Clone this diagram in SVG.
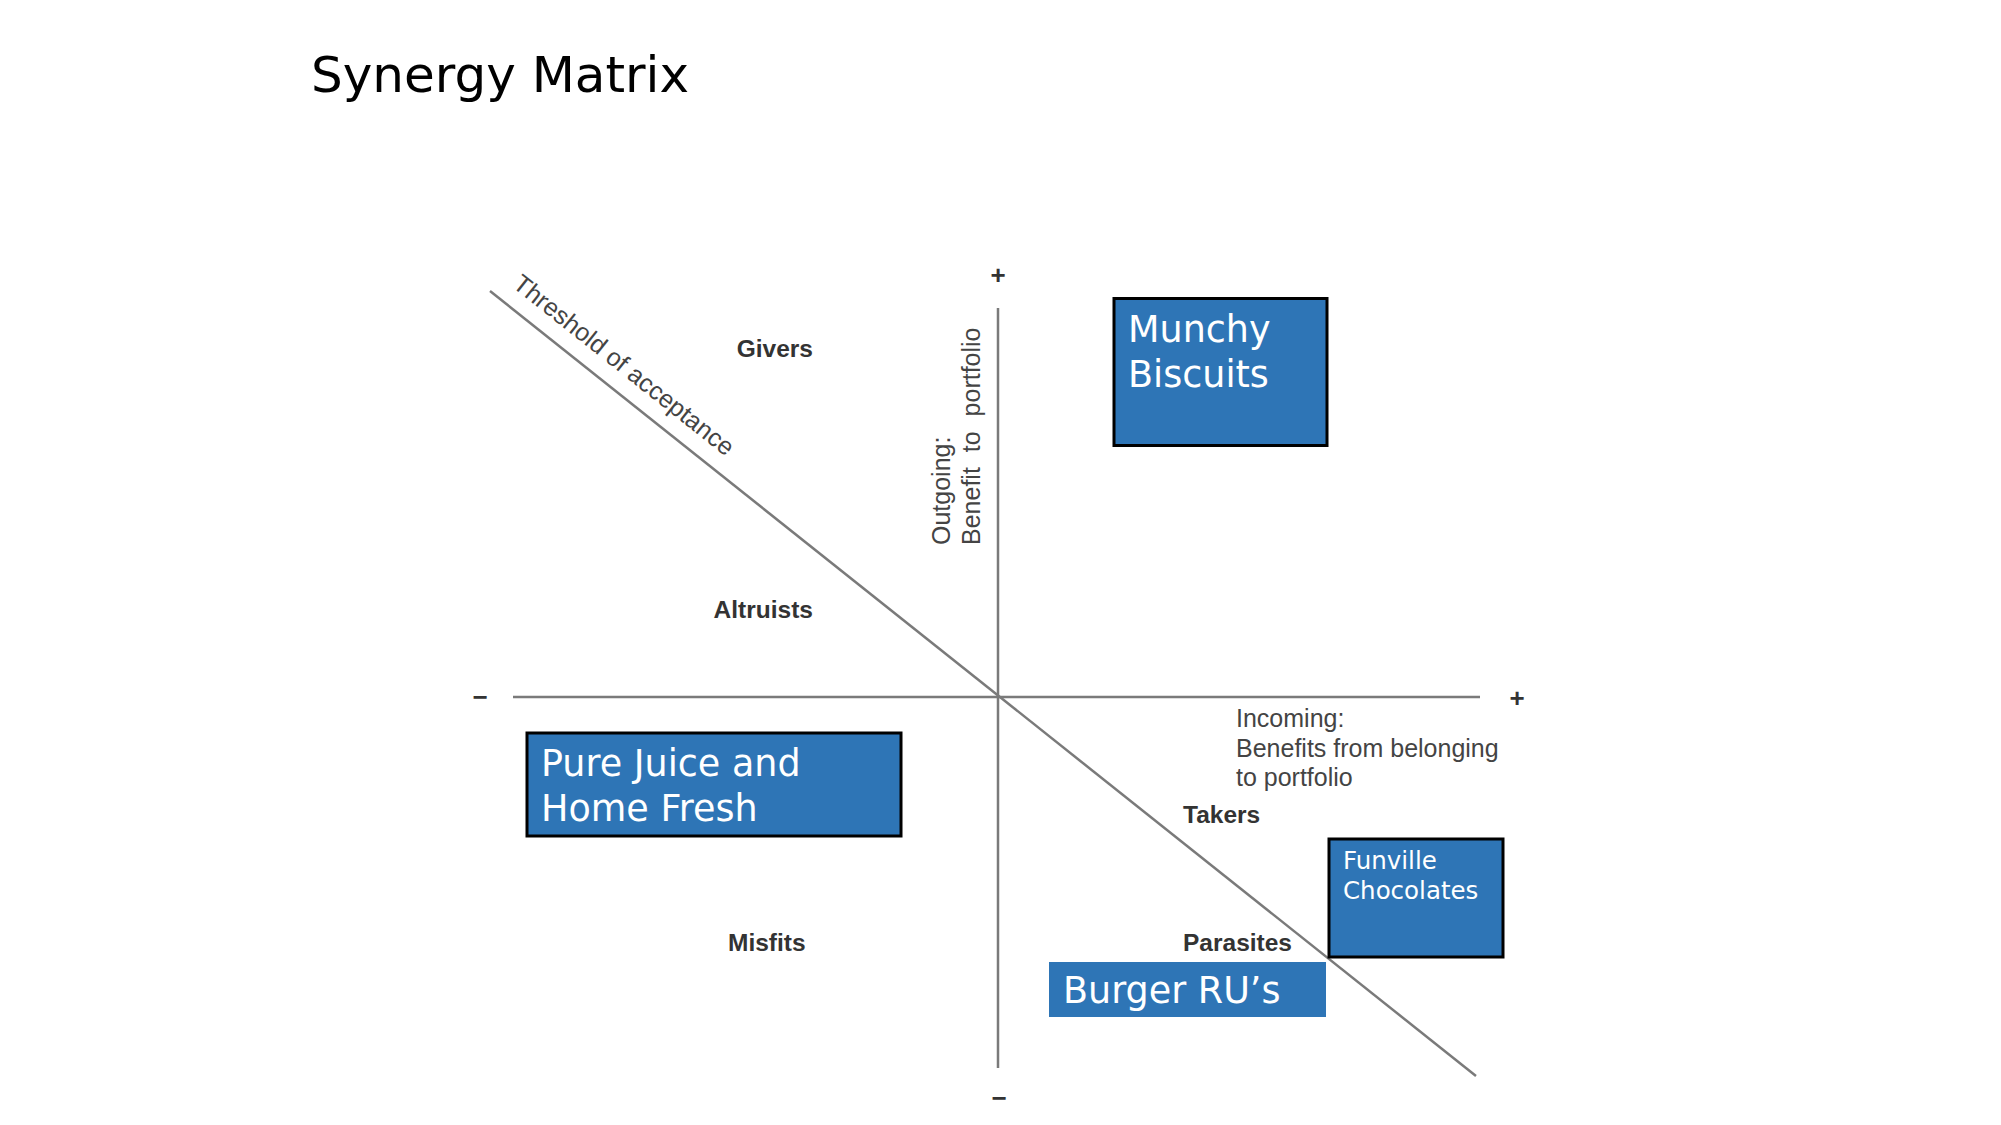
<svg xmlns="http://www.w3.org/2000/svg" width="2001" height="1125" viewBox="0 0 2001 1125">
<style>
.axis{stroke:#7a7a7a;stroke-width:2.5;fill:none}
.lbl{font-family:"Liberation Sans",Arial,sans-serif;font-weight:bold;font-size:24.5px;fill:#333}
.sign{font-family:"Liberation Sans",Arial,sans-serif;font-weight:bold;font-size:26px;fill:#333;text-anchor:middle}
.ax{font-family:"Liberation Sans",Arial,sans-serif;font-size:25px;fill:#444}
.box{fill:#2E75B6;stroke:#000;stroke-width:3}
.boxnb{fill:#2E75B6}
.bt{font-family:"DejaVu Sans",sans-serif;font-size:36.5px;fill:#fff}
.bts{font-family:"DejaVu Sans",sans-serif;font-size:24.5px;fill:#fff}
</style>
<rect width="2001" height="1125" fill="#fff"/>
<text x="311" y="92" font-family="DejaVu Sans, sans-serif" font-size="50" fill="#000">Synergy Matrix</text>
<g id="connectors">
<line class="axis" x1="998" y1="308" x2="998" y2="1068"/>
<line class="axis" x1="513" y1="697" x2="1480" y2="697"/>
<line class="axis" x1="490" y1="291" x2="1476" y2="1076"/>
</g>
<g id="signs">
<text class="sign" x="998" y="284">+</text>
<text class="sign" x="999" y="1107">−</text>
<text class="sign" x="480" y="706">−</text>
<text class="sign" x="1517" y="707">+</text>
</g>
<g id="axis-labels">
<text class="ax" transform="translate(490,291) rotate(38.5)" x="14" y="-17" font-size="24.6">Threshold of acceptance</text>
<text class="ax" transform="translate(950,545) rotate(-90)" font-size="24.5">Outgoing:</text>
<text class="ax" transform="translate(980,545) rotate(-90)" font-size="24.5" word-spacing="8">Benefit to portfolio</text>
<text class="ax" x="1236" y="727">Incoming:</text>
<text class="ax" x="1236" y="757">Benefits from belonging</text>
<text class="ax" x="1236" y="786">to portfolio</text>
</g>
<g id="quadrant-labels">
<text class="lbl" x="813" y="357" text-anchor="end">Givers</text>
<text class="lbl" x="813" y="618" text-anchor="end">Altruists</text>
<text class="lbl" x="728" y="951">Misfits</text>
<text class="lbl" x="1183" y="823">Takers</text>
<text class="lbl" x="1183" y="951">Parasites</text>
</g>
<g id="munchy">
<rect class="box" x="1114" y="298.5" width="213" height="147"/>
<text class="bt" x="1128" y="342">Munchy</text>
<text class="bt" x="1128" y="387">Biscuits</text>
</g>
<g id="purejuice">
<rect class="box" x="527" y="733" width="374" height="103"/>
<text class="bt" x="541" y="776">Pure Juice and</text>
<text class="bt" x="541" y="821">Home Fresh</text>
</g>
<g id="funville">
<rect class="box" x="1329" y="839" width="174" height="118"/>
<text class="bts" x="1343" y="869">Funville</text>
<text class="bts" x="1343" y="899">Chocolates</text>
</g>
<g id="burger">
<rect class="boxnb" x="1049" y="962" width="277" height="55"/>
<text class="bt" x="1063" y="1003" font-size="37">Burger RU’s</text>
</g>
</svg>
